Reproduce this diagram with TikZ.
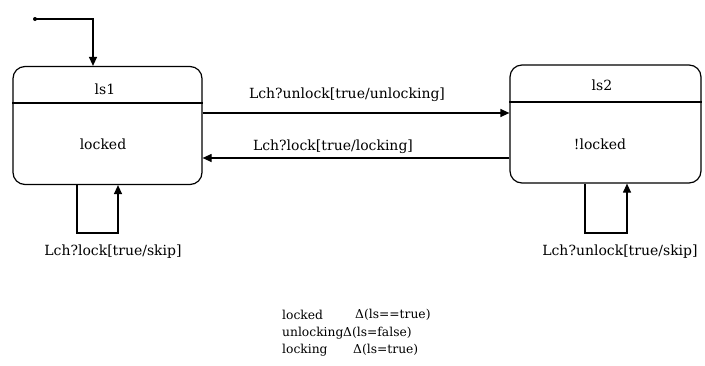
\documentclass[tikz,border=0pt]{standalone}
\usepackage{fontspec}
\setmainfont{DejaVu Serif}
\usetikzlibrary{arrows.meta}
\begin{document}
\begin{tikzpicture}[x=1pt,y=-1pt,
  state/.style={draw,line width=1.2pt,rounded corners=12pt,inner sep=0pt},
  conn/.style={line width=1.2pt,-{Triangle[length=9pt,width=8pt]}},
  lbl/.style={inner sep=0pt,font=\fontsize{14}{16}\selectfont},
  key/.style={inner sep=0pt,anchor=west,font=\fontsize{12.3}{14}\selectfont},
  ]
\useasboundingbox (0,0) rectangle (705,365);
% states
\node[state,minimum width=189pt,minimum height=118pt] (s1) at (107.5,125.5) {};
\node[state,minimum width=191pt,minimum height=118pt] (s2) at (605.5,124) {};
\draw[line width=1.2pt] (s1.west |- 0,103) -- (s1.east |- 0,103);
\draw[line width=1.2pt] (s2.west |- 0,102) -- (s2.east |- 0,102);
\node[lbl] (n1) at (105,89) {ls1};
\node[lbl] (b1) at (103,144) {locked};
\node[lbl] (n2) at (602,85) {ls2};
\node[lbl] (b2) at (600,144) {!locked};
% initial
\fill (35,19) circle (2pt) coordinate (init);
\draw[conn] (init) -- (93,19) -- (s1.north -| 93,0);
% transitions
\draw[conn] (s1.east |- 0,113) -- (s2.west |- 0,113);
\node[lbl] (t1) at (347,95) {Lch?unlock[true/unlocking]};
\draw[conn] (s2.west |- 0,158) -- (s1.east |- 0,158);
\node[lbl] (t2) at (333,147) {Lch?lock[true/locking]};
% self loops
\draw[conn] (s1.south -| 77,0) -- (77,233) -- (118,233) -- (s1.south -| 118,0);
\node[lbl] (l1) at (113,252) {Lch?lock[true/skip]};
\draw[conn] (s2.south -| 585,0) -- (585,233) -- (627,233) -- (s2.south -| 627,0);
\node[lbl] (l2) at (620,252) {Lch?unlock[true/skip]};
% legend
\node[key] (k1) at (282,315) {locked};
\node[key] (d1) at (355,315) {Δ(ls==true)};
\node[key] (k2) at (282,333) {unlocking};
\node[key] (d2) at (343,333) {Δ(ls=false)};
\node[key] (k3) at (282,350) {locking};
\node[key] (d3) at (353,350) {Δ(ls=true)};
\end{tikzpicture}
\end{document}
